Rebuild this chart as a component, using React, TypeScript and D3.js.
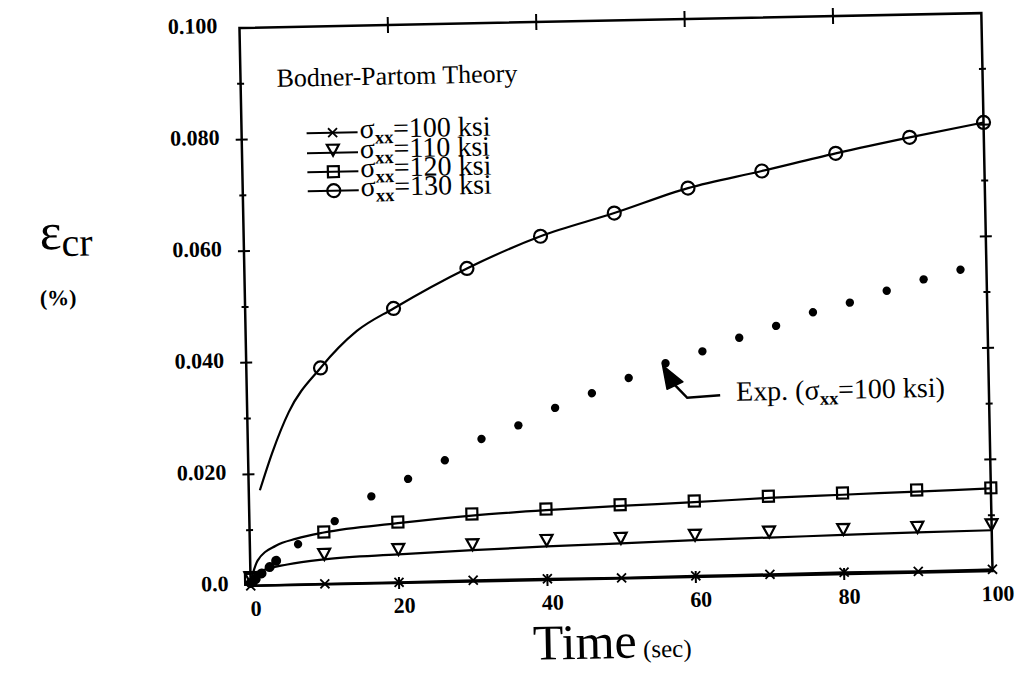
import React from "react";
import * as d3 from "d3";

// ---------- data ----------
const X_TICKS = [0, 20, 40, 60, 80, 100];
const X_TICK_LABELS = ["0", "20", "40", "60", "80", "100"];
const FRAME_X_TICKS = [20, 40, 60, 80];
const Y_TICKS = [0, 0.02, 0.04, 0.06, 0.08, 0.1];
const Y_TICK_LABELS = ["0.0", "0.020", "0.040", "0.060", "0.080", "0.100"];
const Y_MINOR_TICKS = [0.01, 0.03, 0.05, 0.07, 0.09];

const MARKER_TIME = [0, 10, 20, 30, 40, 50, 60, 70, 80, 90, 100];
const S100_MARKERS = [0.0, 0.0001, 0.0001, 0.0002, 0.0002, 0.0001, 0.0002, 0.0002, 0.0003, 0.0002, 0.0003];
const S110_MARKERS = [0.0005, 0.0044, 0.005, 0.0056, 0.0061, 0.0062, 0.0065, 0.0068, 0.007, 0.0071, 0.0073];
const S120_MARKERS = [0.0012, 0.0094, 0.0109, 0.0121, 0.0127, 0.0132, 0.0136, 0.0142, 0.0145, 0.0148, 0.0149];
const S130_MARKER_TIME = [10, 20, 30, 40, 50, 60, 70, 80, 90, 100];
const S130_MARKERS = [0.0388, 0.0492, 0.0561, 0.0616, 0.0655, 0.0697, 0.0725, 0.0754, 0.078, 0.0804];

const S110_LINE_TIME = [0, 1.5, 5, 10, 20, 30, 40, 50, 60, 70, 80, 90, 100];
const S110_LINE = [0.0004, 0.0026, 0.0037, 0.0045, 0.0051, 0.0056, 0.006, 0.0063, 0.0066, 0.0068, 0.007, 0.0072, 0.0073];
const S120_LINE_TIME = [0, 1, 3.5, 6.3, 10, 20, 30, 40, 50, 60, 70, 80, 90, 100];
const S120_LINE = [0.0008, 0.0045, 0.0071, 0.0083, 0.0093, 0.0107, 0.0118, 0.0125, 0.013, 0.0134, 0.0139, 0.0142, 0.0145, 0.0148];
const S130_LINE_TIME = [1.5, 3.3, 5.6, 10, 15, 20, 30, 40, 50, 60, 70, 80, 90, 100];
const S130_LINE = [0.0171, 0.0239, 0.031, 0.0388, 0.0453, 0.0492, 0.0561, 0.0616, 0.0655, 0.0697, 0.0725, 0.0754, 0.078, 0.0804];

const EXP_TIME = [0, 0.7, 1.5, 2.6, 3.5, 6.5, 11.5, 16.5, 21.5, 26.5, 31.5, 36.5, 41.5, 46.5, 51.5, 56.5, 61.5, 66.5, 71.5, 76.5, 81.5, 86.5, 91.5, 96.5];
const EXP_STRAIN = [0.0005, 0.0012, 0.0022, 0.0033, 0.0044, 0.0073, 0.0113, 0.0156, 0.0186, 0.0218, 0.0255, 0.0278, 0.0308, 0.0333, 0.0359, 0.0384, 0.0404, 0.0427, 0.0447, 0.047, 0.0486, 0.0506, 0.0525, 0.0541];
const ARROW_TARGET = 15; // index of the experimental point the arrow points at

const LEGEND_TITLE = "Bodner-Partom Theory";
const LEGEND_STRESS = ["100", "110", "120", "130"];
const LEGEND_MARKERS = ["x", "tri", "sq", "circ"];

// ---------- layout ----------
const W = 1020;
const H = 673;
const L = 245;
const R = 987;
const T = 20.5;
const B = 578.5;
const CX = 616;
const CY = 299.5;
const TILT = -1.15;

const SERIF = "'Liberation Serif', 'Times New Roman', serif";

const x = d3.scaleLinear().domain([0, 100]).range([L, R]);
const y = d3.scaleLinear().domain([0, 0.1]).range([B, T]);

const lineGen = d3
  .line<[number, number]>()
  .x((d) => x(d[0]))
  .y((d) => y(d[1]))
  .curve(d3.curveMonotoneX);

const zip = (a: number[], b: number[]): [number, number][] => a.map((v, i) => [v, b[i]]);

function Marker({ kind, cx, cy }: { kind: string; cx: number; cy: number }) {
  const sw = 2.2;
  if (kind === "x") {
    const s = 4.5;
    return (
      <path
        d={`M${cx - s},${cy - s}L${cx + s},${cy + s}M${cx - s},${cy + s}L${cx + s},${cy - s}`}
        stroke="#000"
        strokeWidth={1.8}
        fill="none"
      />
    );
  }
  if (kind === "tri") {
    // apex-down triangle, apex on the data point
    return (
      <path
        d={`M${cx - 6},${cy - 11}L${cx + 6},${cy - 11}L${cx},${cy}Z`}
        stroke="#000"
        strokeWidth={sw}
        fill="none"
        strokeLinejoin="miter"
      />
    );
  }
  if (kind === "sq") {
    return <rect x={cx - 5.5} y={cy - 5.5} width={11} height={11} stroke="#000" strokeWidth={sw} fill="none" />;
  }
  return <circle cx={cx} cy={cy} r={6.5} stroke="#000" strokeWidth={sw} fill="none" />;
}

function Sigma({ value, size }: { value: string; size: number }) {
  return (
    <>
      <tspan>σ</tspan>
      <tspan fontSize={size * 0.66} fontWeight="bold" dy={size * 0.2}>
        xx
      </tspan>
      <tspan dy={-size * 0.2}>{`=${value} ksi`}</tspan>
    </>
  );
}

export default function App() {
  const series = [
    { kind: "x", line: zip(MARKER_TIME, S100_MARKERS), marks: zip(MARKER_TIME, S100_MARKERS) },
    { kind: "tri", line: zip(S110_LINE_TIME, S110_LINE), marks: zip(MARKER_TIME, S110_MARKERS) },
    { kind: "sq", line: zip(S120_LINE_TIME, S120_LINE), marks: zip(MARKER_TIME, S120_MARKERS) },
    { kind: "circ", line: zip(S130_LINE_TIME, S130_LINE), marks: zip(S130_MARKER_TIME, S130_MARKERS) },
  ];
  const exp = zip(EXP_TIME, EXP_STRAIN);
  const ax = x(EXP_TIME[ARROW_TARGET]);
  const ay = y(EXP_STRAIN[ARROW_TARGET]);

  const legendRows = [127, 147, 166, 185];

  return (
    <svg
      width={W}
      height={H}
      style={{ position: "absolute", left: 0, top: 0, background: "#fff" }}
      xmlns="http://www.w3.org/2000/svg"
    >
      <rect width={W} height={H} fill="#fff" />
      <g transform={`rotate(${TILT} ${CX} ${CY})`}>
        {/* frame */}
        <rect x={L} y={T} width={R - L} height={B - T} fill="none" stroke="#000" strokeWidth={2.5} />

        {/* y ticks on both sides */}
        {Y_TICKS.concat(Y_MINOR_TICKS).map((v, i) => {
          const len = i < Y_TICKS.length ? 6 : 3.5;
          if (v === 0 || v === 0.1) return null;
          return (
            <g key={`yt${i}`} stroke="#000" strokeWidth={2}>
              <line x1={L - len} x2={L + len} y1={y(v)} y2={y(v)} />
              <line x1={R - len} x2={R + len} y1={y(v)} y2={y(v)} />
            </g>
          );
        })}
        {/* x ticks on top and bottom */}
        {FRAME_X_TICKS.map((t) => (
          <g key={`xt${t}`} stroke="#000" strokeWidth={2}>
            <line x1={x(t)} x2={x(t)} y1={T - 8} y2={T + 8} />
            <line x1={x(t)} x2={x(t)} y1={B - 6} y2={B + 6} />
          </g>
        ))}

        {/* tick labels */}
        {Y_TICKS.map((v, i) => (
          <text
            key={`yl${i}`}
            x={L - 22}
            y={y(v) - 3}
            dy="0.35em"
            textAnchor="end"
            fontFamily={SERIF}
            fontWeight="bold"
            fontSize={22}
          >
            {Y_TICK_LABELS[i]}
          </text>
        ))}
        {X_TICKS.map((t, i) => (
          <text
            key={`xl${i}`}
            x={x(t) + 5}
            y={B + 30}
            textAnchor="middle"
            fontFamily={SERIF}
            fontWeight="bold"
            fontSize={22}
          >
            {X_TICK_LABELS[i]}
          </text>
        ))}

        {/* axis titles */}
        <text x={41} y={238} fontFamily={SERIF} fontSize={52}>
          ε
          <tspan fontSize={40} dy={7}>
            cr
          </tspan>
        </text>
        <text x={40} y={294} fontFamily={SERIF} fontWeight="bold" fontSize={22}>
          (%)
        </text>
        <text x={526} y={658} fontFamily={SERIF}>
          <tspan fontSize={50}>Time</tspan>
          <tspan fontSize={25}> (sec)</tspan>
        </text>

        {/* theory curves */}
        {series.map((s, i) => (
          <path key={`ln${i}`} d={lineGen(s.line) || ""} fill="none" stroke="#000" strokeWidth={2.2} />
        ))}
        {series.map((s, i) =>
          s.marks.map((d, j) => <Marker key={`mk${i}-${j}`} kind={s.kind} cx={x(d[0])} cy={y(d[1])} />)
        )}

        {/* experimental points */}
        {exp.map((d, i) => (
          <circle key={`ex${i}`} cx={x(d[0])} cy={y(d[1])} r={d[0] < 5 ? 5 : 4.2} fill="#000" />
        ))}

        {/* annotation arrow */}
        <path
          d={`M${ax - 3},${ay + 2}L${ax + 1},${ay + 26}L${ax + 17},${ay + 19}Z`}
          fill="#000"
          stroke="#000"
          strokeWidth={1.5}
          strokeLinejoin="round"
        />
        <path
          d={`M${ax + 9},${ay + 22}L${ax + 21},${ay + 35}L${ax + 54},${ay + 33}`}
          fill="none"
          stroke="#000"
          strokeWidth={2.5}
        />
        <text x={ax + 70} y={ay + 39} fontFamily={SERIF} fontSize={28}>
          Exp. (<Sigma value="100" size={28} />)
        </text>

        {/* legend */}
        <text x={281} y={80} fontFamily={SERIF} fontSize={26}>
          {LEGEND_TITLE}
        </text>
        {LEGEND_STRESS.map((v, i) => (
          <g key={`lg${i}`}>
            <line x1={310} x2={361} y1={legendRows[i]} y2={legendRows[i]} stroke="#000" strokeWidth={2} />
            <Marker kind={LEGEND_MARKERS[i]} cx={336} cy={legendRows[i] + (LEGEND_MARKERS[i] === "tri" ? 3 : 0)} />
            <text x={363} y={legendRows[i] + 6} fontFamily={SERIF} fontSize={28}>
              <Sigma value={v} size={28} />
            </text>
          </g>
        ))}
      </g>
    </svg>
  );
}
